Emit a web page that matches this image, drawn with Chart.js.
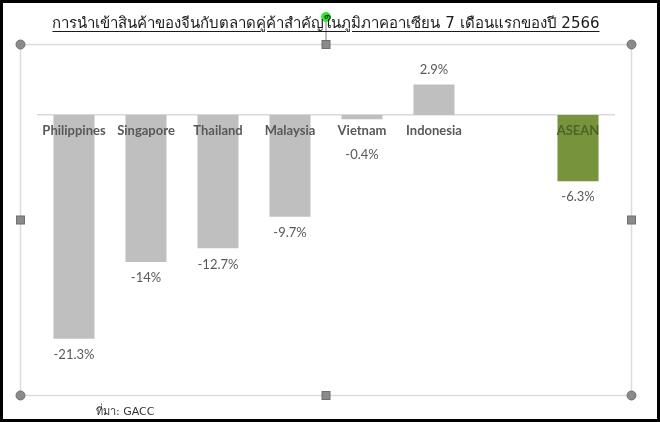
<!DOCTYPE html>
<html>
<head>
<meta charset="utf-8">
<script src="https://cdn.jsdelivr.net/npm/chart.js@4"></script>
<style>
  html, body { margin: 0; padding: 0; background: #fff; }
  #wrap { position: relative; width: 660px; height: 422px; overflow: hidden; }
  #c { position: absolute; left: 0; top: 0; }
  #title { position: absolute; left: 0; width: 652px; top: 11px; text-align: center;
    font-family: Tahoma, "DejaVu Sans", sans-serif; font-size: 15px; color: #1a1a1a;
    text-decoration: underline; text-underline-offset: 3px; white-space: nowrap; }
  #source { position: absolute; left: 96px; top: 402px; font-family: Tahoma, "DejaVu Sans", sans-serif;
    font-size: 11px; color: #333; white-space: nowrap; }
  #border { position: absolute; left: 0; top: 0; width: 654px; height: 416px; border: 3px solid #000; pointer-events: none; }
</style>
</head>
<body>
<div id="wrap">
  <canvas id="c" width="660" height="422"></canvas>
  <div id="title">การนำเข้าสินค้าของจีนกับตลาดคู่ค้าสำคัญในภูมิภาคอาเซียน 7 เดือนแรกของปี 2566</div>
  <div id="source">ที่มา: GACC</div>
  <div id="border"></div>
</div>
<script>
const categories = ["Philippines", "Singapore", "Thailand", "Malaysia", "Vietnam", "Indonesia", "", "ASEAN"];
const values = [-21.3, -14, -12.7, -9.7, -0.4, 2.9, null, -6.3];
const valueLabels = ["-21.3%", "-14%", "-12.7%", "-9.7%", "-0.4%", "2.9%", "", "-6.3%"];
const barColors = ["#bfbfbf", "#bfbfbf", "#bfbfbf", "#bfbfbf", "#bfbfbf", "#bfbfbf", "#bfbfbf", "#77933c"];
const tickColors = ["#595959", "#595959", "#595959", "#595959", "#595959", "#595959", "#595959", "#4f6228"];

const labelPlugin = {
  id: 'valueLabels',
  afterDatasetsDraw(chart) {
    const ctx = chart.ctx;
    const meta = chart.getDatasetMeta(0);
    const zeroY = chart.scales.y.getPixelForValue(0);
    ctx.save();
    ctx.font = '13px Lato, "Open Sans", sans-serif';
    ctx.fillStyle = '#595959';
    ctx.textAlign = 'center';
    ctx.textBaseline = 'middle';
    meta.data.forEach((bar, i) => {
      const v = values[i];
      if (v === null) return;
      let y;
      if (v >= 0) y = bar.y - 15;
      else y = Math.max(bar.y + 16, zeroY + 40);
      ctx.fillText(valueLabels[i], bar.x, y);
    });
    ctx.restore();
  }
};

const framePlugin = {
  id: 'frame',
  afterDraw(chart) {
    const ctx = chart.ctx;
    ctx.save();
    const L = 20.5, T = 44.5, R = 631.5, B = 395.5;
    ctx.strokeStyle = '#dcdcdc';
    ctx.lineWidth = 1.5;
    ctx.strokeRect(L, T, R - L, B - T);
    ctx.strokeStyle = '#7f7f7f';
    ctx.lineWidth = 1;
    ctx.beginPath(); ctx.moveTo(326, 20); ctx.lineTo(326, 41); ctx.stroke();
    ctx.fillStyle = '#2ee82e';
    ctx.beginPath(); ctx.arc(326, 17, 5, 0, Math.PI * 2); ctx.fill();
    ctx.fillStyle = '#8a8a8a';
    ctx.strokeStyle = '#6f6f6f';
    [[L, T], [R, T], [L, B], [R, B]].forEach(([x, y]) => {
      ctx.beginPath(); ctx.arc(x, y, 4.5, 0, Math.PI * 2); ctx.fill(); ctx.stroke();
    });
    const mx = (L + R) / 2, my = (T + B) / 2;
    [[mx, T], [mx, B], [L, my], [R, my]].forEach(([x, y]) => {
      ctx.fillRect(x - 4, y - 4, 8, 8); ctx.strokeRect(x - 4, y - 4, 8, 8);
    });
    ctx.restore();
  }
};

new Chart(document.getElementById('c'), {
  type: 'bar',
  data: {
    labels: categories,
    datasets: [{
      data: values,
      backgroundColor: barColors,
      borderWidth: 0,
      barPercentage: 0.57,
      categoryPercentage: 1.0
    }]
  },
  options: {
    responsive: false,
    animation: false,
    layout: { padding: { left: 38, right: 46, top: 62.5, bottom: 44.5 } },
    plugins: { legend: { display: false }, tooltip: { enabled: false }, title: { display: false } },
    scales: {
      x: {
        position: { y: 0 },
        grid: { display: false, drawTicks: false },
        border: { display: true, color: '#d9d9d9', width: 1.5, z: -1 },
        ticks: {
          z: 1,
          padding: 8,
          color: tickColors,
          font: { family: 'Lato, "Open Sans", sans-serif', size: 13, weight: 'bold' },
          maxRotation: 0,
          autoSkip: false
        }
      },
      y: {
        display: false,
        min: -25,
        max: 5
      }
    }
  },
  plugins: [labelPlugin, framePlugin]
});
</script>
</body>
</html>
